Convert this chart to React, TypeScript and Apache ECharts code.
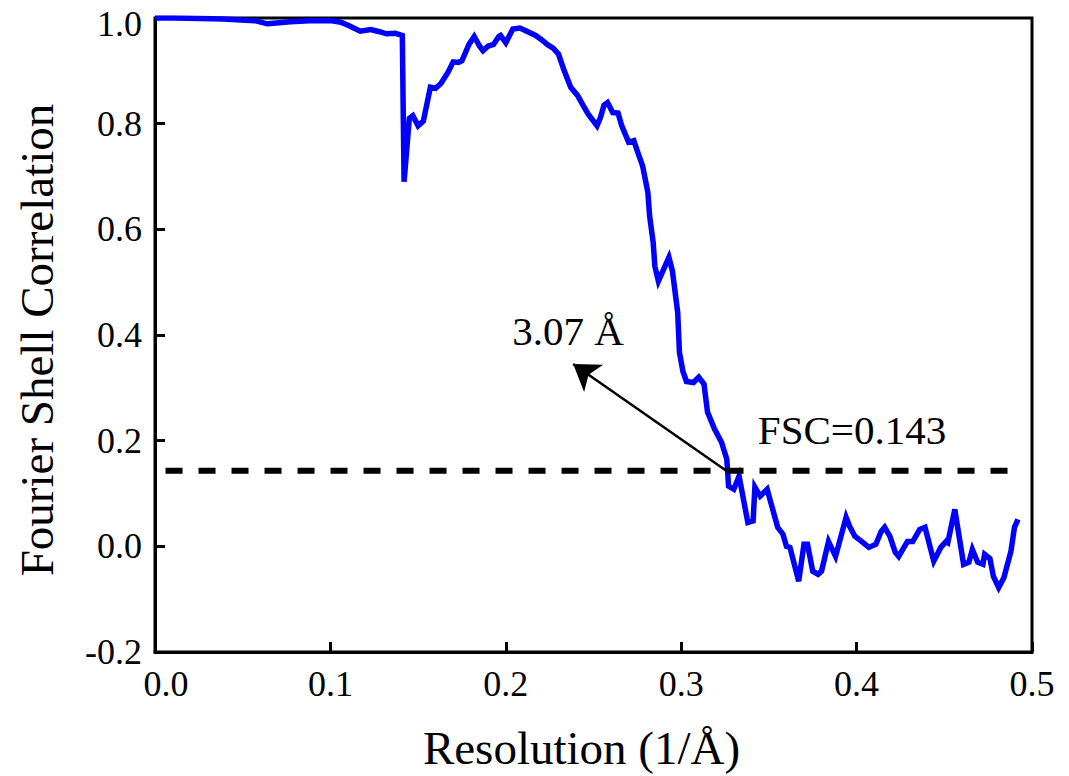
import React, { useEffect, useRef } from "react";
import * as echarts from "echarts";

// Spatial frequency (1/Å) and the corresponding Fourier shell correlation
const resolution = [
  0.0, 0.011, 0.026, 0.039, 0.049, 0.057, 0.064, 0.071, 0.077, 0.088,
  0.1, 0.106, 0.111, 0.117, 0.123, 0.128, 0.132, 0.137, 0.141, 0.142,
  0.145, 0.147, 0.15, 0.153, 0.157, 0.16, 0.163, 0.167, 0.17, 0.173,
  0.175, 0.179, 0.182, 0.185, 0.187, 0.19, 0.193, 0.196, 0.197, 0.2,
  0.204, 0.208, 0.212, 0.217, 0.22, 0.224, 0.227, 0.23, 0.233, 0.237,
  0.241, 0.244, 0.247, 0.252, 0.254, 0.256, 0.258, 0.261, 0.264, 0.266,
  0.27, 0.273, 0.275, 0.278, 0.281, 0.282, 0.284, 0.285, 0.287, 0.293,
  0.295, 0.298, 0.299, 0.301, 0.303, 0.307, 0.31, 0.313, 0.315, 0.319,
  0.323, 0.326, 0.327, 0.33, 0.333, 0.338, 0.341, 0.342, 0.345, 0.349,
  0.355, 0.358, 0.36, 0.362, 0.367, 0.37, 0.372, 0.375, 0.378, 0.38,
  0.384, 0.388, 0.394, 0.396, 0.399, 0.403, 0.407, 0.411, 0.414, 0.416,
  0.419, 0.422, 0.424, 0.427, 0.429, 0.432, 0.436, 0.439, 0.444, 0.448,
  0.451, 0.452, 0.456, 0.458, 0.461, 0.464, 0.466, 0.469, 0.472, 0.473,
  0.476, 0.478, 0.481, 0.484, 0.488, 0.49, 0.492,
];

const fsc = [
  1.0, 1.0, 0.999, 0.998, 0.996, 0.995, 0.989, 0.991, 0.993, 0.995,
  0.995, 0.992, 0.985, 0.975, 0.978, 0.974, 0.97, 0.971, 0.967, 0.69,
  0.81, 0.815, 0.796, 0.805, 0.869, 0.867, 0.876, 0.897, 0.917, 0.916,
  0.919, 0.95, 0.965, 0.947, 0.938, 0.947, 0.95, 0.965, 0.967, 0.953,
  0.979, 0.981, 0.975, 0.967, 0.96, 0.949, 0.943, 0.932, 0.903, 0.869,
  0.853, 0.835, 0.818, 0.796, 0.812, 0.835, 0.84, 0.821, 0.82, 0.797,
  0.765, 0.768, 0.748, 0.72, 0.67, 0.625, 0.576, 0.53, 0.502, 0.547,
  0.521, 0.443, 0.367, 0.331, 0.312, 0.31, 0.32, 0.307, 0.254, 0.222,
  0.197, 0.165, 0.114, 0.108, 0.133, 0.045, 0.048, 0.112, 0.095, 0.108,
  0.036, 0.023, 0.0, -0.002, -0.066, 0.004, 0.004, -0.047, -0.053, -0.047,
  0.009, -0.019, 0.055, 0.038, 0.019, 0.009, -0.002, 0.004, 0.028, 0.036,
  0.019, -0.011, -0.019, -0.002, 0.009, 0.009, 0.032, 0.036, -0.028, -0.002,
  0.009, 0.007, 0.07, 0.028, -0.034, -0.03, -0.006, -0.03, -0.034, -0.015,
  -0.023, -0.057, -0.078, -0.059, -0.009, 0.036, 0.051,
];

// FSC = 0.143 gold-standard threshold line
const thresholdValue = 0.143;
const thresholdSpan = [0.006, 0.494];

// Arrow from the threshold crossing towards the resolution label
const arrowFrom = [0.3257, 0.143];
const arrowTo = [0.2384, 0.345];

const resolutionLabel = "3.07 Å";
const thresholdLabel = "FSC=0.143";

const SERIF = "'Liberation Serif', 'Times New Roman', serif";

export default function App() {
  const ref = useRef<HTMLDivElement>(null);

  useEffect(() => {
    if (!ref.current) return;
    const chart = echarts.init(ref.current, null, { renderer: "svg" });

    const curve = resolution.map((x, i) => [x, fsc[i]]);
    const threshold = thresholdSpan.map((x) => [x, thresholdValue]);

    const labelFont = { fontFamily: SERIF, fontSize: 36, color: "#000" };

    chart.setOption({
      animation: false,
      backgroundColor: "#fff",
      grid: {
        left: 155,
        right: 37,
        top: 18,
        bottom: 124,
        containLabel: false,
        outerBoundsMode: "none",
        show: true,
        borderColor: "#000",
        borderWidth: 3,
        backgroundColor: "transparent",
      },
      xAxis: {
        type: "value",
        min: 0,
        max: 0.5,
        interval: 0.1,
        name: "Resolution (1/Å)",
        nameLocation: "middle",
        nameGap: 72,
        nameTextStyle: {
          fontFamily: SERIF,
          fontSize: 47,
          color: "#000",
          padding: [0, 24, 0, 0],
        },
        axisLine: { onZero: false, lineStyle: { color: "#000", width: 3 } },
        axisTick: { inside: true, length: 10, lineStyle: { color: "#000", width: 3 } },
        axisLabel: {
          ...labelFont,
          margin: 14,
          formatter: (v: number) => (v === 0 ? `{first|${v.toFixed(1)}}` : v.toFixed(1)),
          rich: {
            first: { ...labelFont, padding: [0, 0, 0, 22] },
          },
        },
        splitLine: { show: false },
      },
      yAxis: {
        type: "value",
        min: -0.2,
        max: 1.0,
        interval: 0.2,
        name: "Fourier Shell Correlation",
        nameLocation: "middle",
        nameGap: 95,
        nameTextStyle: {
          fontFamily: SERIF,
          fontSize: 47,
          color: "#000",
          padding: [0, 10, 0, 0],
        },
        axisLine: { lineStyle: { color: "#000", width: 3 } },
        axisTick: { inside: true, length: 10, lineStyle: { color: "#000", width: 3 } },
        axisLabel: {
          ...labelFont,
          lineHeight: 28,
          margin: 13,
          formatter: (v: number) => (v === 1 ? `{last|${v.toFixed(1)}}` : v.toFixed(1)),
          rich: {
            last: { ...labelFont, lineHeight: 28, padding: [12, 0, 0, 0] },
          },
        },
        splitLine: { show: false },
      },
      series: [
        {
          name: "FSC",
          type: "line",
          data: curve,
          symbol: "none",
          lineStyle: { color: "#0000ff", width: 5.5, join: "miter" },
          z: 3,
        },
        {
          name: "threshold",
          type: "line",
          data: threshold,
          symbol: "none",
          silent: true,
          lineStyle: { color: "#000", width: 6, type: [17, 16] },
          z: 4,
          markLine: {
            silent: true,
            symbol: ["none", "arrow"],
            symbolSize: 25,
            label: { show: false },
            lineStyle: { color: "#000", width: 2.5, type: "solid" },
            emphasis: { disabled: true },
            data: [[{ coord: arrowFrom }, { coord: arrowTo }]],
          },
        },
      ],
      graphic: [
        {
          type: "text",
          x: 568,
          y: 331,
          style: {
            text: resolutionLabel,
            font: `41px ${SERIF}`,
            fill: "#000",
            textAlign: "center",
            textVerticalAlign: "middle",
          },
        },
        {
          type: "text",
          x: 852,
          y: 430,
          style: {
            text: thresholdLabel,
            font: `41px ${SERIF}`,
            fill: "#000",
            textAlign: "center",
            textVerticalAlign: "middle",
          },
        },
      ],
    });

    return () => chart.dispose();
  }, []);

  return (
    <div
      ref={ref}
      style={{ position: "fixed", left: 0, top: 0, width: 1069, height: 776, background: "#fff" }}
    />
  );
}
